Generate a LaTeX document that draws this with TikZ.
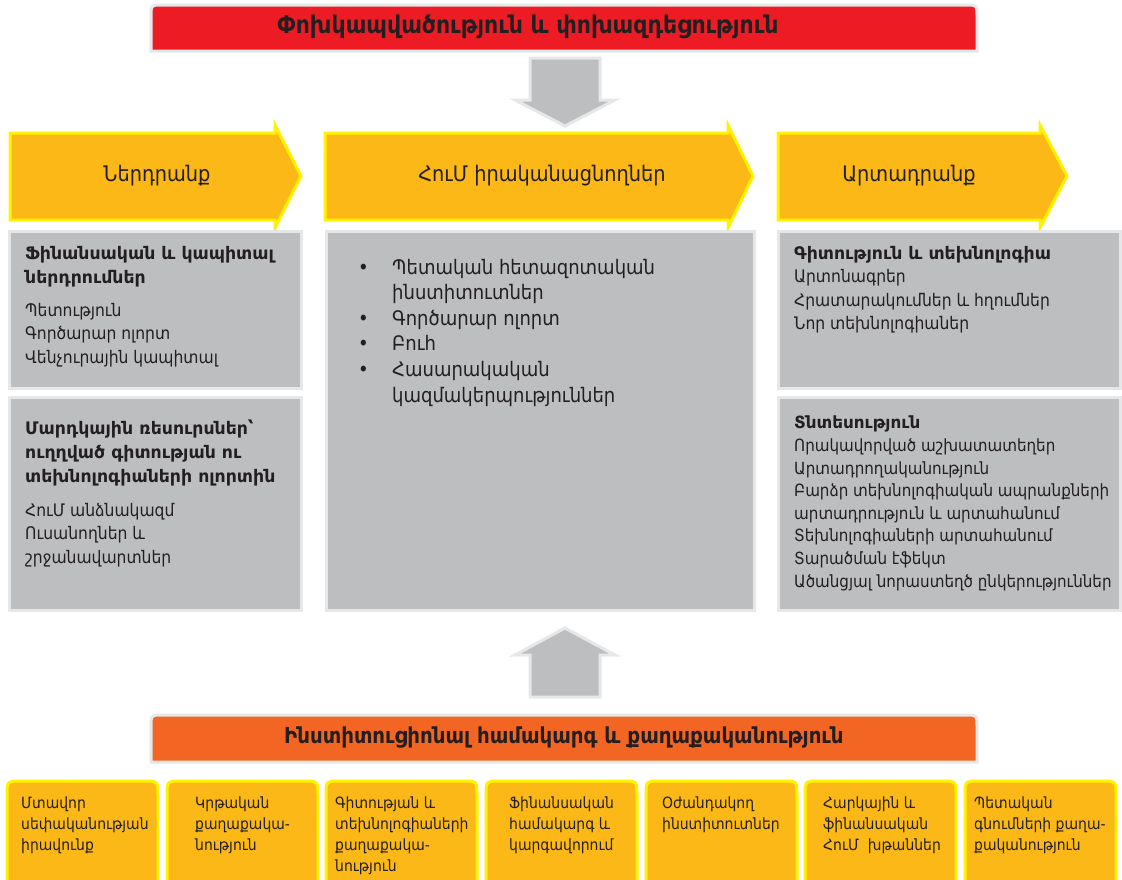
\documentclass[tikz,border=0pt]{standalone}
\usepackage{fontspec}
\setmainfont{DejaVu Sans Condensed}
\newfontfamily\widefont{DejaVu Sans}
\definecolor{bred}{HTML}{ED1C24}
\definecolor{borange}{HTML}{F26522}
\definecolor{byel}{HTML}{FBB817}
\definecolor{byelline}{HTML}{FFF200}
\definecolor{bgray}{HTML}{BCBEC0}
\definecolor{bgrayline}{HTML}{E6E7E8}
\definecolor{btext}{HTML}{231F20}
\newcommand\wb[1]{{\widefont\bfseries #1}}
\tikzset{
  graybox/.style={draw=bgrayline, fill=bgray, line width=3pt, inner sep=0pt, anchor=north west},
  bannerline/.style={draw=bgrayline, line width=3pt},
  hdrarrow/.style={draw=byelline, fill=byel, line width=3pt, line join=miter},
  blockarrow/.style={draw=bgrayline, fill=bgray, line width=3pt, line join=miter},
  yelbox/.style={draw=byelline, fill=byel, line width=3pt},
  sidetext/.style={font=\fontsize{17.3}{23.5}\selectfont, text=btext, align=left, anchor=base west, inner sep=0pt},
  sideboldtext/.style={sidetext, font=\fontsize{17.3}{24}\selectfont\widefont\bfseries},
  midtext/.style={font=\fontsize{20}{25.6}\selectfont, text=btext, align=left, anchor=base west, inner sep=0pt},
  hdrtext/.style={font=\fontsize{21.5}{25}\selectfont, text=btext, inner sep=0pt},
  bannertext/.style={font=\fontsize{24.5}{28}\selectfont\bfseries, text=btext, inner sep=0pt},
  smalltext/.style={font=\fontsize{15.5}{21.3}\selectfont, text=btext, align=left, anchor=base west, inner sep=0pt},
}
\newcommand\polbox[2]{%
  \draw[yelbox] (#2,882) -- (#2,796) .. controls (#2,781) .. (#2+15,781)
    -- (#2+136,781) .. controls (#2+151,781) .. (#2+151,796) -- (#2+151,882);
  \coordinate (#1) at (#2,781);
}
\begin{document}
\begin{tikzpicture}[x=1pt,y=-1pt]
\useasboundingbox (0,0) rectangle (1122,879);
\fill[white] (0,0) rectangle (1122,879);

% top banner
\draw[bannerline, fill=bred] (151,51) -- (151,17) .. controls (151,5) .. (163,5)
   -- (965,5) .. controls (977,5) .. (977,17) -- (977,51) -- cycle;
\node[bannertext] (topbanner) at (528,27) {Փոխկապվածություն և փոխազդեցություն};

% down block arrow
\draw[blockarrow] (530,58) -- (600,58) -- (600,100) -- (615,100) -- (565,126)
   -- (515,100) -- (530,100) -- cycle;

% header arrows
\draw[hdrarrow] (10,133) -- (275,133) -- (275,125) -- (301,176) -- (275,228)
   -- (275,220) -- (10,220) -- cycle;
\node[hdrtext] (input) at (157,176) {Ներդրանք};
\draw[hdrarrow] (325,133) -- (728,133) -- (728,125) -- (753,176) -- (728,228)
   -- (728,220) -- (325,220) -- cycle;
\node[hdrtext] (actors) at (542,176) {ՀուՄ իրականացնողներ};
\draw[hdrarrow] (778,133) -- (1040,133) -- (1040,125) -- (1067,176) -- (1040,228)
   -- (1040,220) -- (778,220) -- cycle;
\node[hdrtext] (output) at (909,176) {Արտադրանք};

% gray boxes
\node[graybox, minimum width=292, minimum height=157] (finbox) at (8,230) {};
\node[graybox, minimum width=292, minimum height=213] (humbox) at (8,396) {};
\node[graybox, minimum width=428, minimum height=379] (midbox) at (325,230) {};
\node[graybox, minimum width=342, minimum height=157] (scibox) at (777,230) {};
\node[graybox, minimum width=342, minimum height=213] (ecobox) at (777,396) {};

% left top (anchors at baseline of last line)
\node[sideboldtext] (finhead) at (25,283) {Ֆինանսական և կապիտալ\\ներդրումներ};
\node[sidetext] (finlist) at (25,363) {Պետություն\\Գործարար ոլորտ\\Վենչուրային կապիտալ};
% left bottom
\node[sideboldtext] (humhead) at (25,482) {Մարդկային ռեսուրսներ՝\\ուղղված գիտության ու\\տեխնոլոգիաների ոլորտին};
\node[sidetext] (humlist) at (25,563) {ՀուՄ անձնակազմ\\Ուսանողներ և\\շրջանավարտներ};
% middle
\node[midtext] (midlist) at (358,402) {\makebox[34pt][l]{•}Պետական հետազոտական\\
  \hspace*{34pt}ինստիտուտներ\\
  \makebox[34pt][l]{•}Գործարար ոլորտ\\
  \makebox[34pt][l]{•}Բուհ\\
  \makebox[34pt][l]{•}Հասարակական\\
  \hspace*{34pt}կազմակերպություններ};
% right top
\node[sidetext] (scilist) at (794,329.5) {\wb{Գիտություն և տեխնոլոգիա}\\Արտոնագրեր\\Հրատարակումներ և հղումներ\\Նոր տեխնոլոգիաներ};
% right bottom
\node[sidetext, font=\fontsize{16.8}{22.6}\selectfont] (ecolist) at (794,587) {\wb{Տնտեսություն}\\Որակավորված աշխատատեղեր\\Արտադրողականություն\\Բարձր տեխնոլոգիական ապրանքների\\արտադրություն և արտահանում\\Տեխնոլոգիաների արտահանում\\Տարածման էֆեկտ\\Ածանցյալ նորաստեղծ ընկերություններ};

% up block arrow
\draw[blockarrow] (530,697) -- (600,697) -- (600,655) -- (615,655) -- (565,628)
   -- (515,655) -- (530,655) -- cycle;

% bottom banner
\draw[bannerline, fill=borange] (151,762) -- (151,727) .. controls (151,715) .. (163,715)
   -- (965,715) .. controls (977,715) .. (977,727) -- (977,762) -- cycle;
\node[bannertext, font=\fontsize{22}{26}\selectfont\bfseries] (botbanner) at (564,738) {Ինստիտուցիոնալ համակարգ և քաղաքականություն};

% bottom boxes
\polbox{pa}{7}
\polbox{pb}{167}
\polbox{pc}{326}
\polbox{pd}{486}
\polbox{pe}{646}
\polbox{pf}{805}
\polbox{pg}{965}
\node[smalltext] (ta) at (21,850.6) {Մտավոր\\սեփականության\\իրավունք};
\node[smalltext] (tb) at (195,850.6) {Կրթական\\քաղաքակա-\\նություն};
\node[smalltext] (tc) at (335,871.9) {Գիտության և\\տեխնոլոգիաների\\քաղաքակա-\\նություն};
\node[smalltext] (td) at (509,850.6) {Ֆինանսական\\համակարգ և\\կարգավորում};
\node[smalltext] (te) at (662,829.3) {Օժանդակող\\ինստիտուտներ};
\node[smalltext] (tf) at (823,850.6) {Հարկային և\\ֆինանսական\\ՀուՄ\ \ խթաններ};
\node[smalltext] (tg) at (974,850.6) {Պետական\\գնումների քաղա-\\քականություն};
\end{tikzpicture}
\end{document}
